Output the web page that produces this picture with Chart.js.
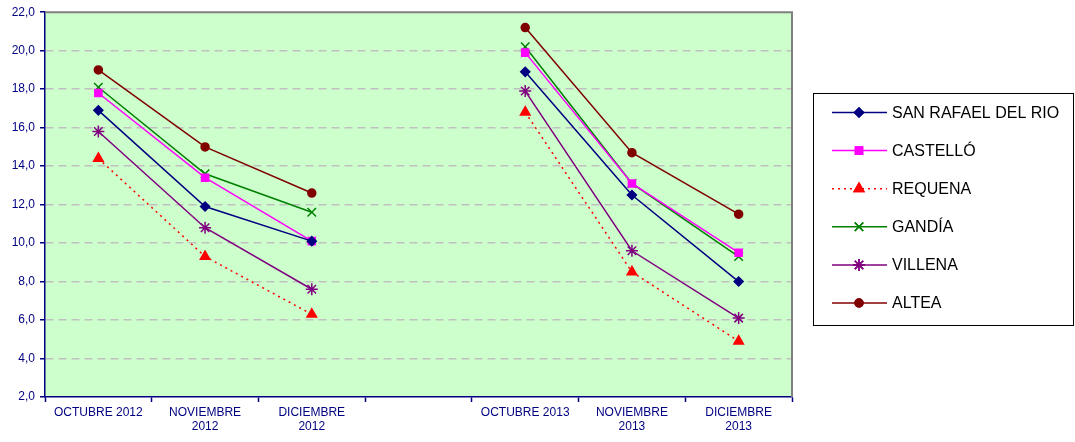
<!DOCTYPE html>
<html>
<head>
<meta charset="utf-8">
<script src="https://cdn.jsdelivr.net/npm/chart.js@4"></script>
<style>
  body { margin: 0; background: #fff; }
  #wrap { width: 1075px; height: 442px; position: relative; }
</style>
</head>
<body>
<div id="wrap"><canvas id="chart"></canvas></div>
<script>
const months = ['OCTUBRE 2012', ['NOVIEMBRE', '2012'], ['DICIEMBRE', '2012'], '', 'OCTUBRE 2013', ['NOVIEMBRE', '2013'], ['DICIEMBRE', '2013']];
const seriesNames = ['SAN RAFAEL DEL RIO', 'CASTELLÓ', 'REQUENA', 'GANDÍA', 'VILLENA', 'ALTEA'];
const sanRafael = [16.9, 11.9, 10.1, null, 18.9, 12.5, 8.0];
const castello  = [17.8, 13.4, 10.1, null, 19.9, 13.1, 9.5];
const requena   = [14.4, 9.3, 6.3, null, 16.8, 8.5, 4.9];
const gandia    = [18.1, 13.6, 11.6, null, 20.2, 13.1, 9.3];
const villena   = [15.8, 10.8, 7.6, null, 17.9, 9.6, 6.1];
const altea     = [19.0, 15.0, 12.6, null, 21.2, 14.7, 11.5];

const navy = '#000080';

function makeSet(label, data, color, style, radius, dash) {
    return {
        label: label,
        data: data,
        borderColor: color,
        backgroundColor: color,
        borderWidth: 1.5,
        borderDash: dash || [],
        pointStyle: style,
        pointRadius: radius,
        pointBorderWidth: 1.5,
        tension: 0,
        spanGaps: false
    };
}

const datasets = [
    makeSet(seriesNames[0], sanRafael, '#000080', 'rectRot', 4.5),
    makeSet(seriesNames[1], castello, '#FF00FF', 'rect', 5),
    makeSet(seriesNames[2], requena, '#FF0000', 'triangle', 5.5, [2, 4]),
    makeSet(seriesNames[3], gandia, '#008000', 'crossRot', 6),
    makeSet(seriesNames[4], villena, '#800080', 'star', 6),
    makeSet(seriesNames[5], altea, '#800000', 'circle', 4)
];

const plotDeco = {
    id: 'plotDeco',
    beforeDraw(chart) {
        const { ctx, chartArea: a } = chart;
        ctx.save();
        ctx.fillStyle = '#CCFFCC';
        ctx.fillRect(a.left, a.top, a.right - a.left, a.bottom - a.top);
        ctx.restore();
    },
    afterDraw(chart) {
        const { ctx, chartArea: a } = chart;
        ctx.save();
        ctx.strokeStyle = '#808080';
        ctx.lineWidth = 2;
        ctx.beginPath();
        ctx.moveTo(a.left, a.top);
        ctx.lineTo(a.right, a.top);
        ctx.lineTo(a.right, a.bottom);
        ctx.stroke();

        // legend box
        const bx = 813.5, by = 93.5, bw = 260, bh = 232;
        ctx.strokeStyle = '#000000';
        ctx.lineWidth = 1;
        ctx.strokeRect(bx, by, bw, bh);
        ctx.font = '16px Arial, "Liberation Sans", sans-serif';
        ctx.textBaseline = 'middle';
        chart.data.datasets.forEach((ds, i) => {
            const y = 112.5 + i * 38.1;
            ctx.strokeStyle = ds.borderColor;
            ctx.lineWidth = 1.5;
            ctx.setLineDash(ds.borderDash);
            ctx.beginPath();
            ctx.moveTo(832, y);
            ctx.lineTo(887, y);
            ctx.stroke();
            ctx.setLineDash([]);
            Chart.helpers.drawPoint(ctx, {
                pointStyle: ds.pointStyle,
                radius: ds.pointRadius,
                borderWidth: 1.5,
                rotation: 0
            }, 859, y);
            ctx.fillStyle = ds.borderColor;
            ctx.fill();
            ctx.stroke();
            ctx.fillStyle = '#000000';
            ctx.fillText(ds.label, 892, y + 1);
        });
        ctx.restore();
    }
};

new Chart(document.getElementById('chart'), {
    type: 'line',
    data: { labels: months, datasets: datasets },
    options: {
        responsive: true,
        maintainAspectRatio: false,
        animation: false,
        layout: { padding: { top: 11, right: 283, left: 0, bottom: 0 } },
        plugins: {
            legend: { display: false },
            tooltip: { enabled: false }
        },
        scales: {
            x: {
                offset: true,
                grid: {
                    offset: true,
                    drawOnChartArea: false,
                    drawTicks: true,
                    tickLength: 5,
                    tickColor: navy,
                    tickWidth: 1.5
                },
                border: { color: navy, width: 1.5 },
                ticks: {
                    color: navy,
                    font: { family: 'Arial, "Liberation Sans", sans-serif', size: 12 },
                    padding: 3,
                    maxRotation: 0,
                    autoSkip: false
                },
                afterFit(scale) { scale.height = 45; }
            },
            y: {
                min: 2,
                max: 22,
                ticks: {
                    stepSize: 2,
                    color: navy,
                    padding: 5,
                    font: { family: 'Arial, "Liberation Sans", sans-serif', size: 12 },
                    callback: v => v.toFixed(1).replace('.', ',')
                },
                grid: {
                    color: ctx => (ctx.tick && (ctx.tick.value === 2 || ctx.tick.value === 22)) ? 'rgba(0,0,0,0)' : '#C0C0C0',
                    tickColor: navy,
                    tickLength: 5,
                    lineWidth: 1.5,
                    tickWidth: 1.5
                },
                border: { color: navy, width: 1.5, dash: [8, 5] },
                afterFit(scale) { scale.width = 45; }
            }
        }
    },
    plugins: [plotDeco]
});
</script>
</body>
</html>
